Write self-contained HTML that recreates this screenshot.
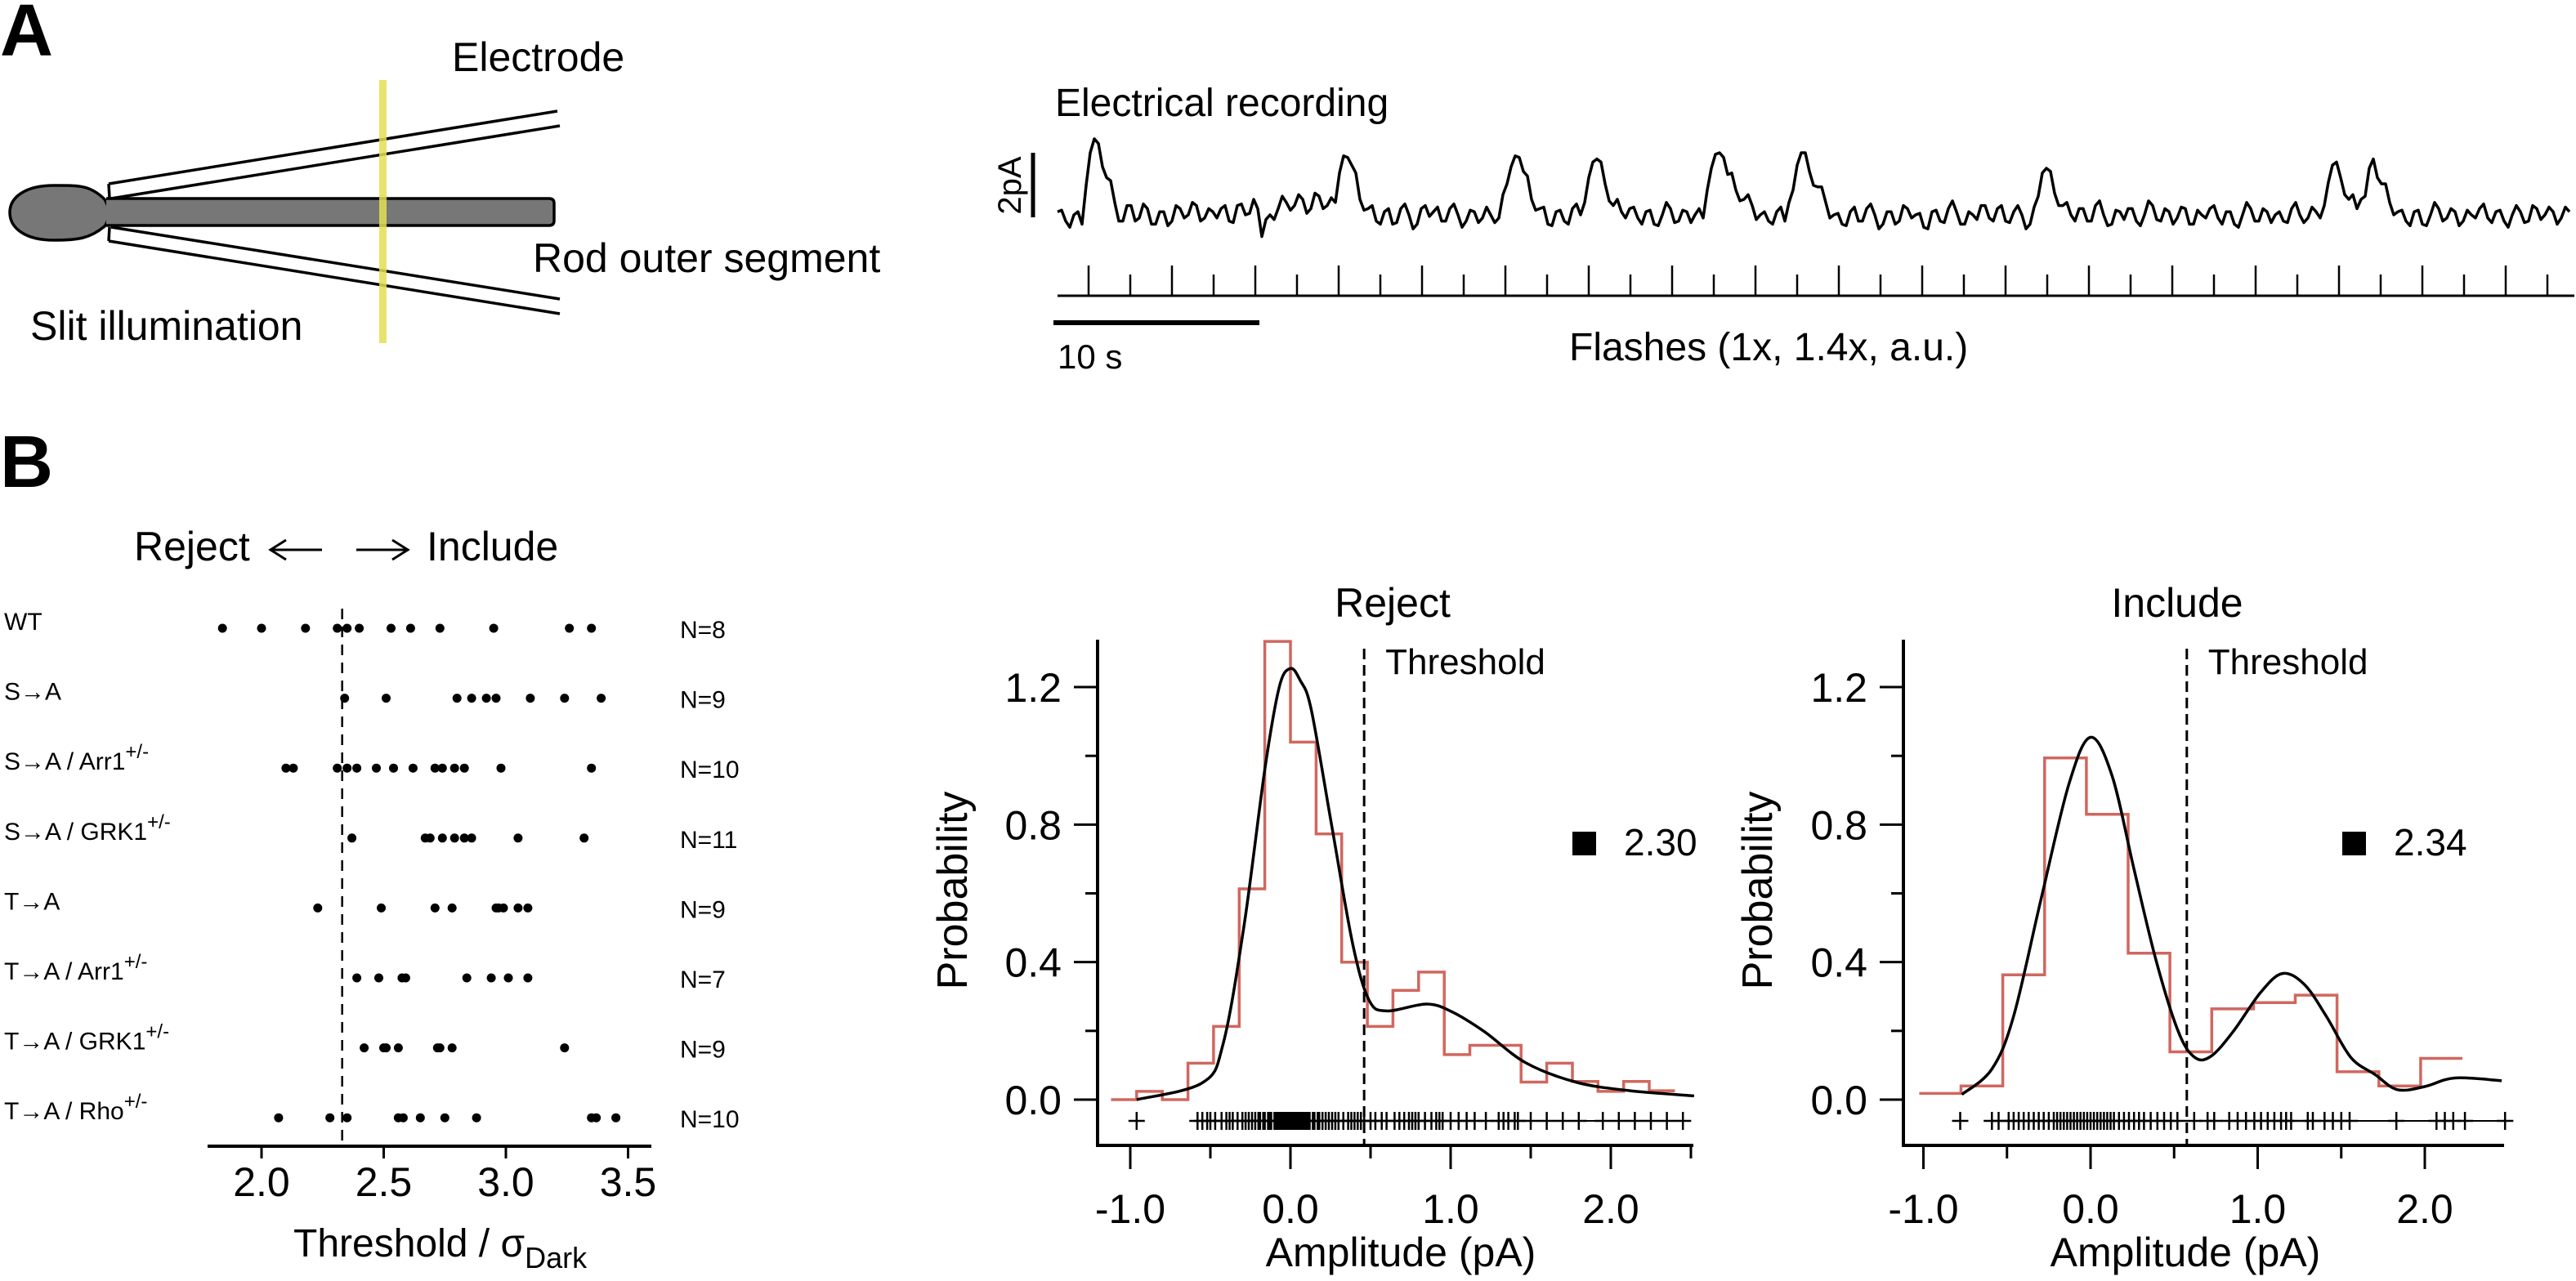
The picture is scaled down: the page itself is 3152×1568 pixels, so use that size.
<!DOCTYPE html>
<html><head><meta charset="utf-8"><style>
html,body{margin:0;padding:0;background:#fff;}
svg{display:block;font-family:"Liberation Sans",Arial,sans-serif;}
</style></head><body>
<svg id="fig" xmlns="http://www.w3.org/2000/svg" width="3152" height="1568" viewBox="0 0 3152 1568">
<rect x="0" y="0" width="3152" height="1568" fill="#fff"/>
<!-- Panel A -->
<text x="0" y="68" font-size="90" font-weight="bold">A</text>
<g stroke="#000" stroke-width="3.5" fill="none">
  <path d="M128,244 C110,226 95,227 66,227 C30,227 12,242 12,260 C12,280 32,294 66,294 C95,294 110,292 128,277 C132,272 132,266 136,262 C132,256 132,250 128,244 Z" fill="#777"/>
  <path d="M130,243 L672,243 Q678,243 678,249 L678,270 Q678,276 672,276 L130,276" fill="#777"/>
  <line x1="133" y1="225" x2="682" y2="136"/>
  <line x1="136" y1="243" x2="685" y2="154"/>
  <line x1="133" y1="225" x2="134" y2="243"/>
  <line x1="136" y1="278" x2="685" y2="366"/>
  <line x1="133" y1="295" x2="685" y2="384"/>
  <line x1="134" y1="278" x2="133" y2="295"/>
</g>
<rect x="464" y="98" width="9" height="322" fill="#e3df55" opacity="0.85"/>
<text x="553" y="87" font-size="50">Electrode</text>
<text x="652" y="333" font-size="50">Rod outer segment</text>
<text x="37" y="416" font-size="50">Slit illumination</text>
<text x="1291" y="142" font-size="48">Electrical recording</text>
<line x1="1264" y1="187" x2="1264" y2="266" stroke="#000" stroke-width="5"/>
<text x="0" y="0" font-size="40" text-anchor="middle" transform="translate(1249,227) rotate(-90)">2pA</text>
<g id="trace"></g>
<g id="flashes"></g>
<line x1="1289" y1="395" x2="1541" y2="395" stroke="#000" stroke-width="6"/>
<text x="1294" y="451" font-size="42">10 s</text>
<text x="1920" y="441" font-size="48">Flashes (1x, 1.4x, a.u.)</text>
<!-- Panel B -->
<text x="0" y="596" font-size="90" font-weight="bold">B</text>
<text x="164" y="686" font-size="50">Reject</text>
<g stroke="#000" stroke-width="3" fill="none">
  <line x1="330" y1="673" x2="394" y2="673"/><polyline points="350,661 331,673 350,685"/>
</g>
<g stroke="#000" stroke-width="3" fill="none">
  <line x1="436" y1="673" x2="500" y2="673"/><polyline points="480,661 499,673 480,685"/>
</g>
<text x="522" y="686" font-size="50">Include</text>
<g id="rows" font-size="30"></g>
<g id="left-axis"></g>
<text x="359" y="1538" font-size="48">Threshold / σ<tspan font-size="36" dy="14">Dark</tspan></text>
<g id="reject-panel"></g>
<g id="include-panel"></g>
</svg>
<script>
const NS = 'http://www.w3.org/2000/svg';
// ---------- data ----------
const traceValues = [0.1,-0.2,0.0,-0.3,2.0,2.3,1.2,0.4,-0.2,0.3,
-0.1,0.2,-0.3,0.1,-0.2,0.2,0.0,0.3,-0.1,0.1,0.2,-0.2,0.3,0.0,0.5,
-0.7,0.0,0.2,0.4,0.3,0.5,0.2,0.6,0.3,0.4,
1.9,1.6,0.5,0.2,-0.2,0.1,-0.3,0.2,0.0,-0.3,
0.3,0.1,-0.2,0.2,0.0,-0.2,0.1,-0.1,0.0,-0.1,
1.0,1.9,1.4,0.5,0.2,-0.3,0.1,-0.2,0.2,0.0,
1.2,1.8,1.0,0.3,0.1,0.2,-0.1,0.1,-0.3,0.0,
0.2,-0.2,0.1,0.0,-0.1,1.5,2.0,1.3,0.8,0.5,
0.3,0.0,-0.2,0.1,-0.2,0.8,2.0,1.4,0.9,0.4,
0.0,-0.3,0.1,-0.2,0.2,0.0,-0.3,0.1,-0.2,0.2,
0.0,-0.4,0.1,-0.2,0.2,0.1,-0.3,0.0,0.3,-0.1,
0.2,-0.2,0.1,0.0,-0.3,0.6,1.5,0.7,0.3,0.0,
0.2,-0.2,0.3,0.0,-0.3,0.1,0.2,-0.2,0.0,0.3,
-0.2,0.1,-0.1,0.2,-0.3,0.0,0.2,-0.1,0.1,-0.3,
0.0,0.2,-0.2,0.1,0.0,-0.2,0.2,0.0,-0.1,0.1,
0.3,1.6,1.2,0.5,0.2,0.6,1.8,1.0,0.4,0.1,
-0.2,0.1,-0.3,0.0,0.2,-0.1,0.1,-0.2,0.0,0.2,
-0.1,0.1,-0.2,0.0,0.1,-0.2,0.2,0.0,0.1,-0.1,0.1];
// intermediate samples between the main samples (offset from midpoint, pA)
const traceDetail = [0.2,-0.3,0.25,0.1,0.3,-0.2,0.3,-0.3,0.25,-0.3,
0.3,-0.25,0.2,-0.3,0.3,-0.2,0.25,-0.3,0.2,-0.25,0.3,-0.3,0.2,-0.2,0.3,
0.2,-0.25,0.3,-0.2,0.25,-0.3,0.3,-0.25,0.2,0.2,
0.1,0.3,-0.2,0.3,-0.25,0.3,-0.2,0.25,-0.3,0.2,
-0.25,0.3,-0.2,0.25,-0.3,0.2,-0.25,0.3,-0.2,0.2,
0.1,0.2,0.3,-0.2,0.3,-0.25,0.2,-0.3,0.25,-0.2,
0.2,0.3,-0.2,0.3,-0.25,0.2,-0.3,0.25,-0.2,0.3,
-0.25,0.2,-0.3,0.25,0.1,0.2,0.2,0.3,-0.2,0.25,
-0.3,0.2,-0.25,0.3,0.1,0.2,0.3,-0.2,0.25,-0.3,
0.2,-0.25,0.3,-0.2,0.25,-0.3,0.2,-0.25,0.3,-0.2,
0.25,-0.3,0.2,-0.25,0.3,-0.2,0.25,-0.3,0.2,-0.25,
0.3,-0.2,0.25,-0.3,0.1,0.3,0.3,-0.2,0.25,-0.3,
0.2,-0.25,0.3,-0.2,0.25,-0.3,0.2,-0.25,0.3,-0.2,
0.25,-0.3,0.2,-0.25,0.3,-0.2,0.25,-0.3,0.2,-0.25,
0.3,-0.2,0.25,-0.3,0.2,-0.25,0.3,-0.2,0.25,-0.3,
0.1,0.3,-0.2,0.3,0.1,0.3,-0.2,0.3,-0.25,0.2,
-0.3,0.25,-0.2,0.3,-0.25,0.2,-0.3,0.25,-0.2,0.3,
-0.25,0.2,-0.3,0.25,-0.2,0.3,-0.25,0.2,-0.3,0.25];
const flashCount = 36;

const rowN = [8,9,10,11,9,7,9,10];
const rowNames = ['WT','S→A','S→A / Arr1','S→A / GRK1','T→A','T→A / Arr1','T→A / GRK1','T→A / Rho'];
const rowSup = ['','','+/-','+/-','','+/-','+/-','+/-'];
const thrWT = [1.84,2.00,2.18,2.31,2.35,2.40,2.53,2.61,2.73,2.95,3.26,3.35];
const thrSA = [2.34,2.51,2.80,2.86,2.92,2.96,3.10,3.24,3.39];
const thrSAArr = [2.10,2.13,2.31,2.35,2.39,2.47,2.54,2.62,2.71,2.74,2.79,2.83,2.98,3.35];
const thrSAGrk = [2.37,2.67,2.69,2.74,2.79,2.83,2.86,3.05,3.32];
const thrTA = [2.23,2.49,2.71,2.78,2.96,2.97,2.99,3.05,3.09];
const thrTAArr = [2.39,2.48,2.575,2.59,2.84,2.94,3.01,3.09];
const thrTAGrk = [2.42,2.50,2.51,2.56,2.72,2.73,2.78,3.24];
const thrTARho = [2.07,2.28,2.35,2.56,2.58,2.65,2.75,2.88,3.35,3.37,3.45];
const thrRows = [thrWT,thrSA,thrSAArr,thrSAGrk,thrTA,thrTAArr,thrTAGrk,thrTARho];
const thrCutoff = 2.33;
const thrTicks = [2.0,2.5,3.0,3.5];
const thrTickLabels = ['2.0','2.5','3.0','3.5'];

const rejHistStart = -1.12, rejHistWidth = 0.16;
const rejHist = [0.0,0.024,0.0,0.106,0.213,0.613,1.333,1.04,0.773,0.40,0.213,0.318,0.371,0.131,0.158,0.158,0.051,0.106,0.053,0.024,0.053,0.026];
const rejFitX = [-0.96,-0.55,-0.42,-0.29,-0.16,-0.07,0,0.06,0.13,0.26,0.39,0.49,0.6,0.85,1.01,1.21,1.47,1.79,2.12,2.52];
const rejFitY = [0,0.049,0.163,0.506,0.96,1.2,1.254,1.22,1.134,0.79,0.45,0.29,0.258,0.278,0.255,0.198,0.107,0.05,0.026,0.011];
const rejEvents = [-0.96,-0.58,-0.55,-0.52,-0.50,-0.47,-0.43,-0.40,-0.38,-0.36,-0.33,-0.30,-0.28,-0.26,-0.24,-0.22,-0.20,-0.19,-0.17,-0.16,-0.14,-0.13,-0.12,-0.10,-0.09,-0.08,-0.07,-0.06,-0.05,-0.04,-0.03,-0.02,-0.01,0.0,0.01,0.02,0.03,0.04,0.05,0.06,0.07,0.08,0.09,0.10,0.11,0.12,0.14,0.15,0.17,0.18,0.20,0.22,0.24,0.26,0.28,0.30,0.33,0.36,0.38,0.40,0.42,0.44,0.46,0.50,0.53,0.57,0.60,0.65,0.68,0.71,0.74,0.76,0.78,0.80,0.84,0.88,0.91,0.93,0.95,1.0,1.05,1.10,1.15,1.22,1.30,1.33,1.36,1.40,1.42,1.50,1.60,1.70,1.80,1.95,2.05,2.15,2.25,2.35,2.45];
const rejThreshold = 0.46;
const rejMarkerValue = '2.30';

const incHistStart = -1.025, incHistWidth = 0.25;
const incHist = [0.018,0.04,0.363,0.994,0.83,0.426,0.139,0.264,0.282,0.304,0.081,0.04,0.12];
const incFitX = [-0.77,-0.59,-0.46,-0.295,-0.13,0,0.13,0.262,0.393,0.525,0.623,0.72,0.852,1.016,1.148,1.279,1.41,1.557,1.705,1.836,2.0,2.18,2.46];
const incFitY = [0.015,0.089,0.243,0.586,0.917,1.054,0.94,0.666,0.403,0.198,0.123,0.126,0.197,0.311,0.367,0.335,0.243,0.123,0.072,0.029,0.038,0.063,0.055];
const incEvents = [-0.78,-0.59,-0.55,-0.49,-0.46,-0.43,-0.40,-0.37,-0.34,-0.31,-0.28,-0.25,-0.22,-0.20,-0.18,-0.16,-0.14,-0.12,-0.10,-0.08,-0.06,-0.04,-0.02,0.0,0.02,0.04,0.06,0.08,0.10,0.12,0.14,0.17,0.20,0.23,0.26,0.29,0.32,0.36,0.40,0.44,0.48,0.52,0.62,0.70,0.74,0.83,0.88,0.93,0.98,1.02,1.06,1.10,1.14,1.17,1.20,1.30,1.33,1.40,1.45,1.50,1.55,1.83,2.07,2.12,2.17,2.24,2.48];
const incThreshold = 0.576;
const incMarkerValue = '2.34';

const probTicks = [0,0.2,0.4,0.6,0.8,1.0,1.2];
const probTickLabels = ['0.0','','0.4','','0.8','','1.2'];
const ampTicks = [-1,-0.5,0,0.5,1,1.5,2,2.5];
const ampTickLabels = ['-1.0','','0.0','','1.0','','2.0',''];

// ---------- helpers ----------
function el(tag, parent){ const e=document.createElementNS(NS,tag); parent.appendChild(e); return e; }
function setA(e, o){ for(const k in o) e.setAttribute(k,o[k]); return e; }
function smoothPath(pts){
  let d='M'+pts[0][0].toFixed(1)+','+pts[0][1].toFixed(1);
  for(let i=0;i<pts.length-1;i++){
    const p0=pts[Math.max(0,i-1)],p1=pts[i],p2=pts[i+1],p3=pts[Math.min(pts.length-1,i+2)];
    const c1=[p1[0]+(p2[0]-p0[0])/6,p1[1]+(p2[1]-p0[1])/6];
    const c2=[p2[0]-(p3[0]-p1[0])/6,p2[1]-(p3[1]-p1[1])/6];
    d+=' C'+c1[0].toFixed(1)+','+c1[1].toFixed(1)+' '+c2[0].toFixed(1)+','+c2[1].toFixed(1)+' '+p2[0].toFixed(1)+','+p2[1].toFixed(1);
  }
  return d;
}

// ---------- trace ----------
const traceX = i => 1294 + i*10;
const traceY = v => 263 - v*38;
(function(){
  const g=document.getElementById('trace');
  const p=el('path',g);
  
  
  let d='';
  traceValues.forEach((v,i)=>{
    d+=(i?'L':'M')+traceX(i)+','+traceY(v).toFixed(1)+' ';
    if(i<traceValues.length-1){
      const mid=(v+traceValues[i+1])/2 + (traceDetail[i]||0);
      d+='L'+(traceX(i)+5)+','+traceY(mid).toFixed(1)+' ';
    }
  });
  setA(p,{d:d,fill:'none',stroke:'#000','stroke-width':3.5,'stroke-linejoin':'round'});
  const f=document.getElementById('flashes');
  const base=el('line',f);
  
  
  setA(base,{x1:1294,y1:362,x2:3150,y2:362,stroke:'#000','stroke-width':3});
  for(let k=0;k<flashCount;k++){
    const t=el('line',f);
    
    
    const x=1332+k*51;
    setA(t,{x1:x,x2:x,y1:(k%2===0?325:336),y2:362,stroke:'#000','stroke-width':2.5});
  }
})();

// ---------- left threshold dot plot ----------
const xT = v => 320 + (v-2.0)*299;
const rowY = i => 769 + i*85.6;
(function(){
  const g=document.getElementById('rows');
  rowNames.forEach((name,i)=>{
    const y=rowY(i);
    const t=el('text',g);
    
    
    setA(t,{x:5,y:(y+2).toFixed(1)});
    t.textContent=name;
    if(rowSup[i]){ const s=el('tspan',t); setA(s,{'font-size':24,dy:-14}); s.textContent=rowSup[i]; }
    const n=el('text',g);
    
    
    setA(n,{x:832,y:(y+12).toFixed(1)});
    n.textContent='N='+rowN[i];
    thrRows[i].forEach(v=>{
      const c=el('circle',g);
      
      
      setA(c,{cx:xT(v).toFixed(1),cy:y.toFixed(1),r:5.5,fill:'#000'});
    });
  });
  const a=document.getElementById('left-axis');
  const cut=el('line',a);
  
  
  setA(cut,{x1:xT(thrCutoff),x2:xT(thrCutoff),y1:745,y2:1400,stroke:'#000','stroke-width':2.5,'stroke-dasharray':'13,9'});
  const ax=el('line',a);
  
  
  setA(ax,{x1:254,x2:797,y1:1403,y2:1403,stroke:'#000','stroke-width':4});
  thrTicks.forEach((v,i)=>{
    const t=el('line',a);
    
    
    setA(t,{x1:xT(v),x2:xT(v),y1:1403,y2:1418,stroke:'#000','stroke-width':3});
    const l=el('text',a);
    
    
    setA(l,{x:xT(v),y:1464,'font-size':50,'text-anchor':'middle'});
    l.textContent=thrTickLabels[i];
  });
})();

// ---------- histogram panels ----------
const yP = v => 1346 - v*420.8;
function drawPanel(cfg){
  const g=document.getElementById(cfg.id);
  const xA=v=>cfg.x0 + v*cfg.scale;
  const ya=el('line',g);
  
  
  setA(ya,{x1:cfg.axisX,x2:cfg.axisX,y1:783,y2:1404,stroke:'#000','stroke-width':4});
  const xa=el('line',g);
  
  
  setA(xa,{x1:cfg.axisX-2,x2:cfg.axisEnd,y1:1402,y2:1402,stroke:'#000','stroke-width':4});
  probTicks.forEach((v,i)=>{
    const major=probTickLabels[i]!=='';
    const t=el('line',g);
    
    
    setA(t,{x1:cfg.axisX-(major?29:15),x2:cfg.axisX,y1:yP(v),y2:yP(v),stroke:'#000','stroke-width':3});
    if(major){
      const l=el('text',g);
      
      
      setA(l,{x:cfg.axisX-44,y:yP(v)+18,'font-size':50,'text-anchor':'end'});
      l.textContent=probTickLabels[i];
    }
  });
  ampTicks.forEach((v,i)=>{
    const x=xA(v); if(x>cfg.axisEnd+2) return;
    const major=ampTickLabels[i]!=='';
    const t=el('line',g);
    
    
    setA(t,{x1:x,x2:x,y1:1402,y2:major?1431:1418,stroke:'#000','stroke-width':3});
    if(major){
      const l=el('text',g);
      
      
      setA(l,{x:x,y:1497,'font-size':50,'text-anchor':'middle'});
      l.textContent=ampTickLabels[i];
    }
  });
  let d='';
  cfg.hist.forEach((h,i)=>{
    const x1=xA(cfg.hStart+i*cfg.hWidth), x2=xA(cfg.hStart+(i+1)*cfg.hWidth);
    d+=(i===0?'M'+x1.toFixed(1)+','+yP(h).toFixed(1):'V'+yP(h).toFixed(1))+' H'+x2.toFixed(1)+' ';
  });
  const hp=el('path',g);
  
  
  setA(hp,{d:d,fill:'none',stroke:'#d0675f','stroke-width':3.5});
  const pts=cfg.fitX.map((x,i)=>[xA(x),yP(cfg.fitY[i])]);
  const fp=el('path',g);
  
  
  setA(fp,{d:smoothPath(pts),fill:'none',stroke:'#000','stroke-width':3.5});
  const tl=el('line',g);
  
  
  setA(tl,{x1:xA(cfg.thr),x2:xA(cfg.thr),y1:794,y2:1402,stroke:'#000','stroke-width':3,'stroke-dasharray':'13,7'});
  const rl=el('line',g);
  
  
  const ev=cfg.events;
  const sorted=ev.slice().sort((a,b)=>a-b);
  setA(rl,{x1:xA(sorted[1])-10,x2:xA(sorted[sorted.length-1])+10,y1:1372,y2:1372,stroke:'#000','stroke-width':2});
  ev.forEach(v=>{
    const m=el('path',g);
    
    
    const x=xA(v);
    setA(m,{d:'M'+(x-10).toFixed(1)+',1372 H'+(x+10).toFixed(1)+' M'+x.toFixed(1)+',1361 V1383',stroke:'#000','stroke-width':2.5,fill:'none'});
  });
  const tt=el('text',g);
  
  
  setA(tt,{x:cfg.titleX,y:755,'font-size':50,'text-anchor':'middle'});
  tt.textContent=cfg.title;
  const th=el('text',g);
  
  
  setA(th,{x:xA(cfg.thr)+26,y:825,'font-size':44});
  th.textContent='Threshold';
  const sq=el('rect',g);
  
  
  setA(sq,{x:cfg.sqX,y:1018,width:29,height:29,fill:'#000'});
  const sv=el('text',g);
  
  
  setA(sv,{x:cfg.sqX+63,y:1047,'font-size':46});
  sv.textContent=cfg.marker;
  const yl=el('text',g);
  
  
  setA(yl,{x:0,y:0,'font-size':52,'text-anchor':'middle',transform:'translate('+cfg.yLabelX+',1090) rotate(-90)'});
  yl.textContent='Probability';
  const xl=el('text',g);
  
  
  setA(xl,{x:cfg.titleX+10,y:1550,'font-size':50,'text-anchor':'middle'});
  xl.textContent='Amplitude (pA)';
}
drawPanel({id:'reject-panel',x0:1579,scale:196,axisX:1343,axisEnd:2072,hist:rejHist,hStart:rejHistStart,hWidth:rejHistWidth,
  fitX:rejFitX,fitY:rejFitY,thr:rejThreshold,events:rejEvents,title:'Reject',titleX:1704,sqX:1924,marker:rejMarkerValue,yLabelX:1183});
drawPanel({id:'include-panel',x0:2558,scale:204.5,axisX:2329,axisEnd:3064,hist:incHist,hStart:incHistStart,hWidth:incHistWidth,
  fitX:incFitX,fitY:incFitY,thr:incThreshold,events:incEvents,title:'Include',titleX:2664,sqX:2866,marker:incMarkerValue,yLabelX:2168});
</script>
</body></html>
